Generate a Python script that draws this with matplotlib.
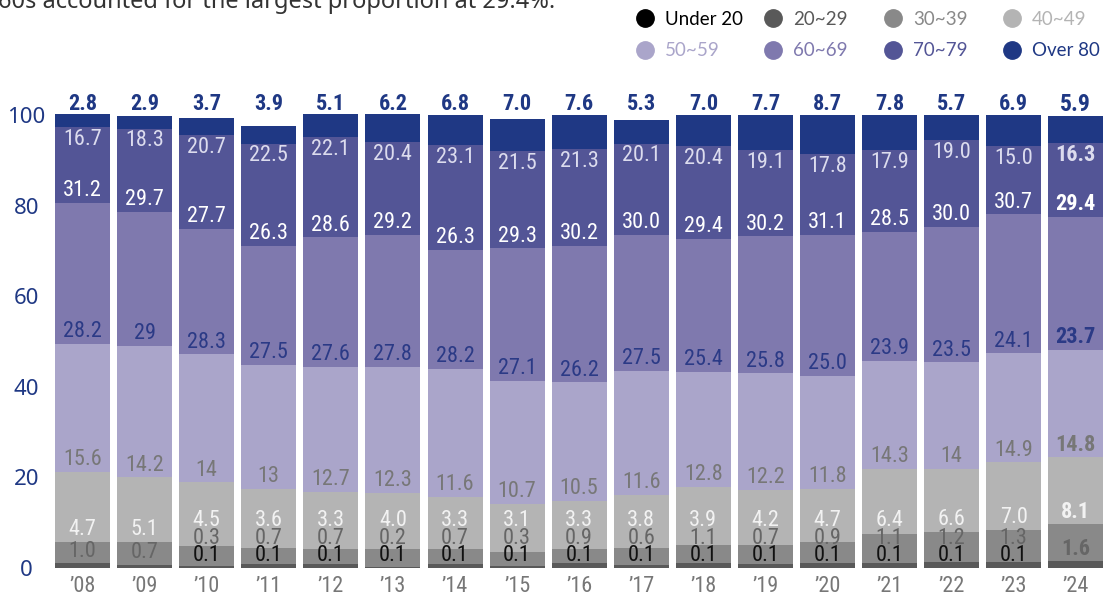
import numpy as np
import matplotlib
matplotlib.use("Agg")
import matplotlib.pyplot as plt
from matplotlib.lines import Line2D

# values as printed on the chart (strings keep the printed format)
years = ["’08", "’09", "’10", "’11", "’12", "’13", "’14", "’15", "’16",
         "’17", "’18", "’19", "’20", "’21", "’22", "’23", "’24"]
groups = ["Under 20", "20~29", "30~39", "40~49", "50~59", "60~69", "70~79", "Over 80"]
colors = ["#000000", "#595959", "#898989", "#b4b4b4", "#aaa5ca", "#7f79ae", "#535596", "#1f3884"]

under_20 = ["0", "0", "0.1", "0.1", "0.1", "0.1", "0.1", "0.1", "0.1",
            "0.1", "0.1", "0.1", "0.1", "0.1", "0.1", "0.1", "0"]
age_20s = ["1.0", "0.7", "0.3", "0.7", "0.7", "0.2", "0.7", "0.3", "0.9",
           "0.6", "1.1", "0.7", "0.9", "1.1", "1.2", "1.3", "1.6"]
age_30s = ["4.7", "5.1", "4.5", "3.6", "3.3", "4.0", "3.3", "3.1", "3.3",
           "3.8", "3.9", "4.2", "4.7", "6.4", "6.6", "7.0", "8.1"]
age_40s = ["15.6", "14.2", "14", "13", "12.7", "12.3", "11.6", "10.7", "10.5",
           "11.6", "12.8", "12.2", "11.8", "14.3", "14", "14.9", "14.8"]
age_50s = ["28.2", "29", "28.3", "27.5", "27.6", "27.8", "28.2", "27.1", "26.2",
           "27.5", "25.4", "25.8", "25.0", "23.9", "23.5", "24.1", "23.7"]
age_60s = ["31.2", "29.7", "27.7", "26.3", "28.6", "29.2", "26.3", "29.3", "30.2",
           "30.0", "29.4", "30.2", "31.1", "28.5", "30.0", "30.7", "29.4"]
age_70s = ["16.7", "18.3", "20.7", "22.5", "22.1", "20.4", "23.1", "21.5", "21.3",
           "20.1", "20.4", "19.1", "17.8", "17.9", "19.0", "15.0", "16.3"]
over_80 = ["2.8", "2.9", "3.7", "3.9", "5.1", "6.2", "6.8", "7.0", "7.6",
           "5.3", "7.0", "7.7", "8.7", "7.8", "5.7", "6.9", "5.9"]

series = [under_20, age_20s, age_30s, age_40s, age_50s, age_60s, age_70s, over_80]
label_colors = ["#111111", "#666666", "#f2f2f2", "#777777", "#2b3a86", "#ffffff", "#dcdcee", "#1f3884"]

NARROW = ["Roboto Condensed", "Roboto"]

fig = plt.figure(figsize=(11.05, 5.99), dpi=100)
ax = fig.add_axes([50 / 1105, 31 / 599, 1055 / 1105, 471 / 599])

x = np.arange(len(years))
width = 0.886
bottom = np.zeros(len(years))
tops = []
for vals, col in zip(series, colors):
    v = np.array([float(s) for s in vals])
    ax.bar(x, v, width, bottom=bottom, color=col, linewidth=0)
    bottom = bottom + v
    tops.append(bottom.copy())

# segment labels
for i in range(len(years)):
    weight = "bold" if i == len(years) - 1 else "normal"
    prev = -np.inf
    for k in range(len(series)):
        s = series[k][i]
        top = tops[k][i]
        if float(s) == 0:
            continue
        fs = 16
        w = weight
        if k == 7:
            y = 102.4
            w = "bold"
            fs = 17 if i == len(years) - 1 else 16
        elif k == 6:
            y = top - 2.7
        else:
            y = max(top + 2.7, prev + 3.8)
            prev = y
        ax.text(x[i], y, s, ha="center", va="center", fontsize=fs, color=label_colors[k],
                family=NARROW, fontstretch="condensed", fontweight=w, clip_on=False)

ax.set_xlim(-0.524, 16.470)
ax.set_ylim(0, 104)
ax.set_xticks(x)
ax.set_xticklabels(years, family=NARROW, fontstretch="condensed", fontsize=16, color="#777777")
ax.set_yticks([0, 20, 40, 60, 80, 100])
ax.set_yticklabels(["0", "20", "40", "60", "80", "100"], fontsize=16, color="#1f3884",
                   family="Noto Sans")
plt.setp(ax.get_yticklabels(), ha="center")
ax.tick_params(axis="x", length=0, pad=6)
ax.tick_params(axis="y", length=0, pad=17)
for sp in ax.spines.values():
    sp.set_visible(False)

# legend: four columns at fixed positions, two rows each
col_x = [636, 764, 884, 1003]
for c in range(4):
    hs = []
    for k in (c, c + 4):
        hs.append(Line2D([], [], linestyle="none", marker="o", markersize=12.5,
                         markerfacecolor=colors[k], markeredgecolor=colors[k], label=groups[k]))
    fig.legend(handles=hs, loc="upper left", bbox_to_anchor=(col_x[c] / 1105, 1 - 11 / 599),
               frameon=False, borderpad=0, borderaxespad=0, handlelength=0.95,
               handletextpad=0.6, labelspacing=0.75,
               labelcolor=[colors[c], colors[c + 4]], prop={"family": "Lato", "size": 13.5})

# cut-off subtitle line at the very top
fig.text(-0.002, 0.987, "60s accounted for the largest proportion at 29.4%.", fontsize=17,
         color="#333333", family="Noto Sans", va="baseline", ha="left")

fig.savefig("out.png", dpi=100)
